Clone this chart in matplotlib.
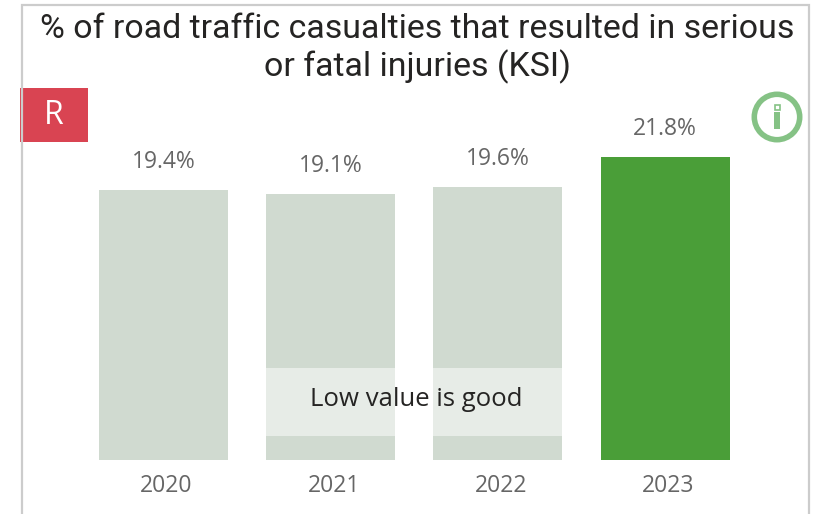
import matplotlib
matplotlib.use("Agg")
import matplotlib.pyplot as plt
from matplotlib.patches import Rectangle, Circle
from matplotlib.transforms import ScaledTranslation

# Values
years = ["2020", "2021", "2022", "2023"]
ksi_pct = [19.4, 19.1, 19.6, 21.8]
value_labels = ["19.4%", "19.1%", "19.6%", "21.8%"]
bar_colors = ["#d0dad0", "#d0dad0", "#d0dad0", "#4a9e38"]

W, H = 822, 514
fig = plt.figure(figsize=(W / 100, H / 100), dpi=100)

# Main axes, placed so one category step is about 167 px and the baseline is at y=460
ax = fig.add_axes([79.8 / W, (H - 460) / H, 669 / W, 360 / H])
ax.bar(range(len(years)), ksi_pct, width=0.771, color=bar_colors)
ax.set_xlim(-0.5, 3.5)
ax.set_ylim(0, 360 / 13.92)
ax.set_xticks(range(len(years)))
ax.set_xticklabels(years, fontsize=16.5, color="#666666", family="Open Sans")
ax.tick_params(axis="x", length=0, pad=9.8)
ax.set_yticks([])
for s in ax.spines.values():
    s.set_visible(False)
ax.patch.set_alpha(0)

# tick labels sit a little right of the bar centres
shift = ScaledTranslation(3 / 100, 0, fig.dpi_scale_trans)
for lab in ax.get_xticklabels():
    lab.set_transform(lab.get_transform() + shift)

for i, v in enumerate(ksi_pct):
    ax.annotate(value_labels[i], (i, v), xytext=(0, 28 * 0.72), textcoords="offset points",
                ha="center", va="center", fontsize=16.5, color="#666666", family="Open Sans")

# Overlay in pixel coordinates for the card furniture
ov = fig.add_axes([0, 0, 1, 1])
ov.set_xlim(0, W)
ov.set_ylim(H, 0)
ov.axis("off")
ov.patch.set_alpha(0)

# card border (open at the bottom)
ov.plot([21.5, 21.5, 808.5, 808.5], [514, 5, 5, 514], color="#cccccc", lw=1.6,
        solid_joinstyle="miter")

# title
ov.text(417, 29, "% of road traffic casualties that resulted in serious", ha="center", va="center",
        fontsize=24.4, color="#252423", family="Roboto")
ov.text(417, 67, "or fatal injuries (KSI)", ha="center", va="center",
        fontsize=24.4, color="#252423", family="Roboto")

# rating badge
ov.add_patch(Rectangle((20, 88), 68, 54, color="#d94452", lw=0))
ov.text(54, 116, "R", ha="center", va="center", fontsize=23, color="white", family="Open Sans")

# info icon
ov.add_patch(Circle((777, 117), 22.7, fill=False, ec="#85c285", lw=4))
ov.add_patch(Rectangle((774, 112), 6, 17, color="#85c285", lw=0))
ov.add_patch(Rectangle((774.5, 104.5), 5, 5, fill=False, ec="#85c285", lw=1.2))

# note box over the middle bars
ov.add_patch(Rectangle((266, 368), 296, 68, color="white", alpha=0.5, lw=0))
ov.text(416, 400, "Low value is good", ha="center", va="center", fontsize=18.5,
        color="#252423", family="Open Sans")

fig.savefig("out.png", dpi=100)
